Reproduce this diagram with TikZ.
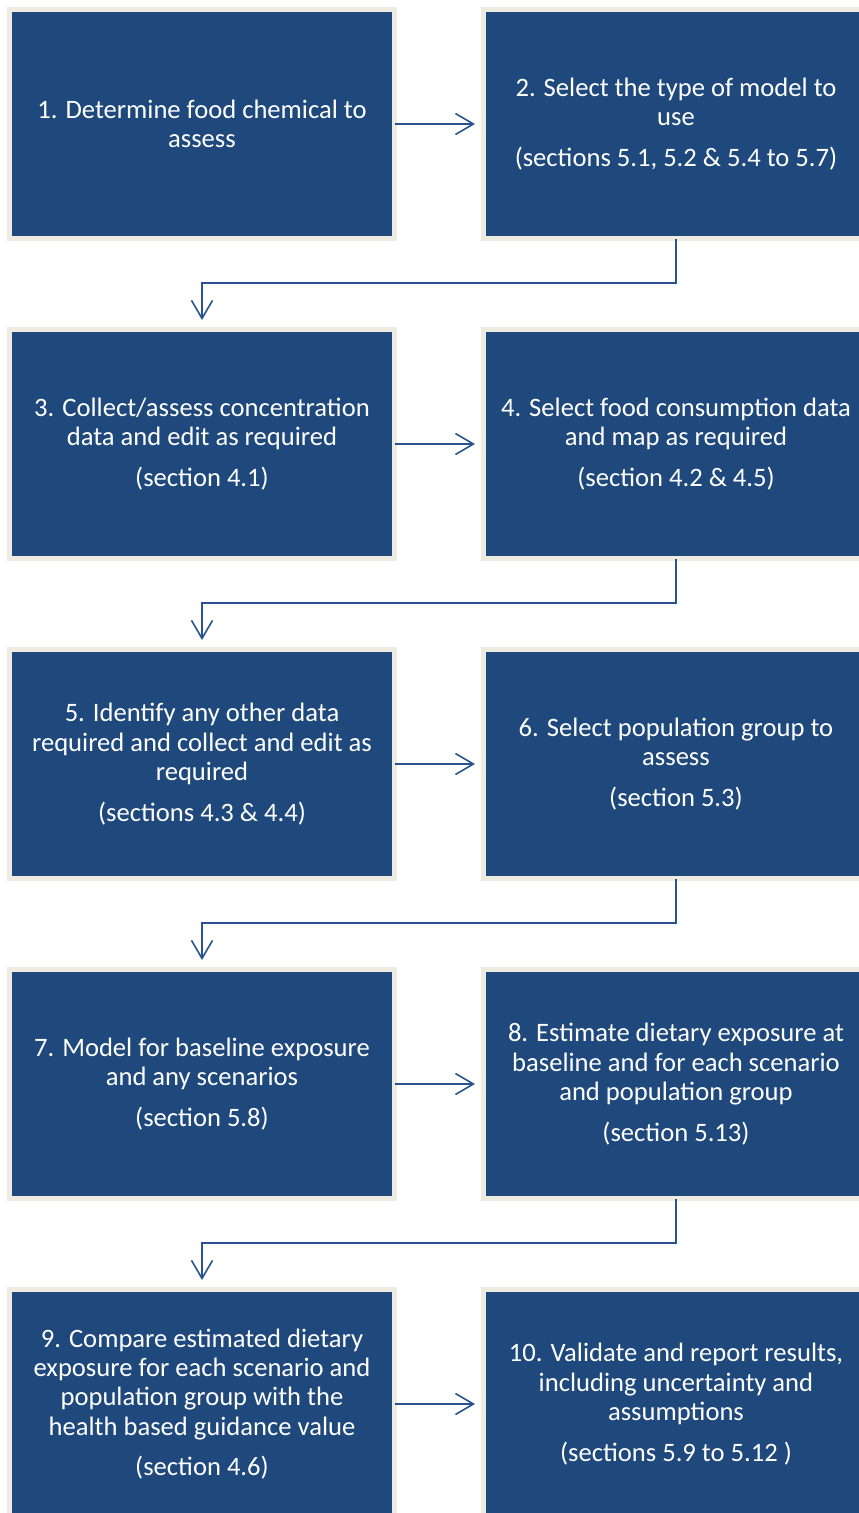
\documentclass[tikz,border=0pt]{standalone}
\usepackage{fontspec}
\setmainfont{Carlito}
\usetikzlibrary{arrows.meta}
\definecolor{boxblue}{HTML}{1F497D}
\definecolor{cream}{HTML}{EEECE1}
\definecolor{linkblue}{HTML}{2A5291}
\tikzset{
  stepbox/.style={rectangle, fill=boxblue, draw=cream, line width=5pt,
    minimum width=385pt, minimum height=229pt, inner sep=0pt,
    text=white, align=center, font=\fontsize{26.6pt}{29.4pt}\selectfont},
  link/.style={draw=linkblue, line width=1.6pt,
    -{Straight Barb[length=18pt,width=21pt,line width=1.6pt]}}
}
\newcommand{\secgap}{\\[11pt]}
\begin{document}
\begin{tikzpicture}[x=1pt,y=-1pt]
\useasboundingbox (0,0) rectangle (859,1513);
\clip (0,0) rectangle (859,1513);
\fill[white] (0,0) rectangle (859,1513);
\node[stepbox] (b1) at (202,124) {1. Determine food chemical to\\assess};
\node[stepbox] (b2) at (676,124) {2. Select the type of model to\\use\secgap(sections 5.1, 5.2 \& 5.4 to 5.7)};
\node[stepbox] (b3) at (202,444) {3. Collect/assess concentration\\data and edit as required\secgap(section 4.1)};
\node[stepbox] (b4) at (676,444) {4. Select food consumption data\\and map as required\secgap(section 4.2 \& 4.5)};
\node[stepbox] (b5) at (202,764) {5. Identify any other data\\required and collect and edit as\\required\secgap(sections 4.3 \& 4.4)};
\node[stepbox] (b6) at (676,764) {6. Select population group to\\assess\secgap(section 5.3)};
\node[stepbox] (b7) at (202,1084) {7. Model for baseline exposure\\and any scenarios\secgap(section 5.8)};
\node[stepbox] (b8) at (676,1084) {8. Estimate dietary exposure at\\baseline and for each scenario\\and population group\secgap(section 5.13)};
\node[stepbox] (b9) at (202,1404) {9. Compare estimated dietary\\exposure for each scenario and\\population group with the\\health based guidance value\secgap(section 4.6)};
\node[stepbox] (b10) at (676,1404) {10. Validate and report results,\\including uncertainty and\\assumptions\secgap(sections 5.9 to 5.12 )};
% horizontal links
\foreach \a/\b in {b1/b2,b3/b4,b5/b6,b7/b8,b9/b10}{
  \draw[link, shorten <=-2.5pt, shorten >=6pt] (\a.east) -- (\b.west);
}
% elbow links
\foreach \a/\b in {b2/b3,b4/b5,b6/b7,b8/b9}{
  \draw[link, shorten <=-2.5pt, shorten >=7pt] (\a.south) -- ++(0,42) -| (\b.north);
}
\end{tikzpicture}
\end{document}
